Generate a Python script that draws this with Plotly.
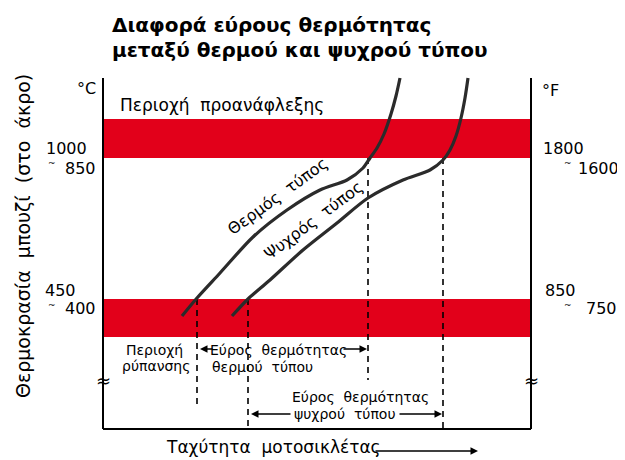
"""Spark plug tip temperature vs motorcycle speed: hot vs cold type."""

import plotly.graph_objects as go

# Diagram units: x = speed (0..625), y = temperature position (0 top .. 460 bottom)
hot_speed = [182, 197, 220, 253, 287, 320, 347, 363, 370, 377, 384, 391, 396, 400]
hot_temp = [316, 298, 273, 237, 210, 190, 180, 168, 158, 148, 134, 114, 96, 78]

cold_speed = [232, 248, 270, 303, 337, 368, 403, 430, 443, 450, 456, 461, 465, 468]
cold_temp = [316, 299, 280, 250, 223, 198, 180, 170, 160, 150, 136, 118, 98, 78]

# Red bands (pre-ignition / fouling limits)
band_top = [119, 299]
band_bottom = [158, 337]

# Dashed drop lines: (speed, top, bottom)
drop_speed = [197, 248, 368, 443]
drop_top = [299, 299, 158, 158]
drop_bottom = [405, 428, 380, 428]

left_ticks = ["1000", "850", "450", "400"]
left_tick_y = [148, 168, 290, 308]
right_ticks = ["1800", "1600", "850", "750"]

AX_L, AX_R, AX_TOP, AX_BOT = 103, 531, 78, 429
RED = "#e2001a"
INK = "#2b2b2b"
FONT = "DejaVu Sans"
PAD = 8  # page body margin

fig = go.Figure()

for t, b in zip(band_top, band_bottom):
    fig.add_shape(type="rect", x0=AX_L, x1=AX_R, y0=t, y1=b,
                  fillcolor=RED, line_width=0, layer="below")

for xs, t, b in zip(drop_speed, drop_top, drop_bottom):
    fig.add_trace(go.Scatter(x=[xs, xs], y=[t, b], mode="lines",
                             line=dict(color="black", width=1.6, dash="6px,5px"),
                             hoverinfo="skip", showlegend=False))

for xs, ys in [(hot_speed, hot_temp), (cold_speed, cold_temp)]:
    fig.add_trace(go.Scatter(x=xs, y=ys, mode="lines",
                             line=dict(color=INK, width=3.2, shape="spline", smoothing=0.8),
                             hoverinfo="skip", showlegend=False))

# axis frame
fig.add_shape(type="line", x0=AX_L, x1=AX_L, y0=AX_TOP, y1=AX_BOT, line=dict(color="black", width=2))
fig.add_shape(type="line", x0=AX_R, x1=AX_R, y0=AX_TOP, y1=AX_BOT, line=dict(color="black", width=2))
fig.add_shape(type="line", x0=AX_L, x1=AX_R, y0=AX_BOT, y1=AX_BOT, line=dict(color="black", width=2))


def txt(x, y, s, size=16, anchor="center", angle=0, bold=False, color="black"):
    fig.add_annotation(x=x, y=y, text=f"<b>{s}</b>" if bold else s, showarrow=False,
                       xanchor=anchor, yanchor="middle", textangle=angle,
                       font=dict(family=FONT, size=size, color=color))


def arrow(x0, x1, y):
    fig.add_annotation(x=x1, y=y, ax=x0, ay=y, axref="x", ayref="y", text="",
                       showarrow=True, arrowhead=2, arrowsize=1, arrowwidth=1.5,
                       arrowcolor="black")


# title
txt(110, 25, "Διαφορά εύρους θερμότητας", size=20, anchor="left", bold=True)
txt(110, 50, "μεταξύ θερμού και ψυχρού τύπου", size=20, anchor="left", bold=True)

# units and band label
txt(86, 88, "°C", size=16)
txt(550, 90, "°F", size=16)
txt(118, 105, "Περιοχή  προανάφλεξης", size=17, anchor="left")

# tick labels
txt(89, left_tick_y[0], left_ticks[0], size=16, anchor="right")
txt(52, left_tick_y[0] + 15, "~", size=9)
txt(98, left_tick_y[1], left_ticks[1], size=16, anchor="right")
txt(78, left_tick_y[2], left_ticks[2], size=16, anchor="right")
txt(52, left_tick_y[2] + 15, "~", size=9)
txt(98, left_tick_y[3], left_ticks[3], size=16, anchor="right")

txt(541, left_tick_y[0], right_ticks[0], size=16, anchor="left")
txt(568, left_tick_y[0] + 15, "~", size=9)
txt(621, left_tick_y[1], right_ticks[1], size=16, anchor="right")
txt(543, left_tick_y[2], right_ticks[2], size=16, anchor="left")
txt(568, left_tick_y[2] + 15, "~", size=9)
txt(584, left_tick_y[3], right_ticks[3], size=16, anchor="left")

# axis breaks
txt(AX_L, 380, "≈", size=18)
txt(AX_R, 380, "≈", size=18)

# curve labels
txt(277, 196, "Θερμός  τύπος", size=16, angle=-36)
txt(313, 220, "Ψυχρός  τύπος", size=16, angle=-37)

# lower annotations
txt(154, 350, "Περιοχή", size=14)
txt(156, 366, "ρύπανσης", size=14)
txt(278, 350, "Εύρος  θερμότητας", size=14)
txt(262, 367, "θερμού  τύπου", size=14)
arrow(214, 200, 349)
arrow(342, 367, 349)
txt(360, 397, "Εύρος  θερμότητας", size=14)
txt(345, 414, "ψυχρού  τύπου", size=14)
arrow(292, 251, 414)
arrow(398, 442, 414)

# axis titles
txt(23, 236, "Θερμοκρασία  μπουζί  (στο  άκρο)", size=19, angle=-90)
txt(273, 447, "Ταχύτητα  μοτοσικλέτας", size=17)
arrow(374, 478, 451)

fig.update_layout(
    width=625, height=460,
    margin=dict(l=0, r=0, t=0, b=0),
    plot_bgcolor="white", paper_bgcolor="white",
    xaxis=dict(range=[PAD, 625 + PAD], visible=False, fixedrange=True),
    yaxis=dict(range=[460 + PAD, PAD], visible=False, fixedrange=True),
    showlegend=False,
)

fig.write_html("out.html")
